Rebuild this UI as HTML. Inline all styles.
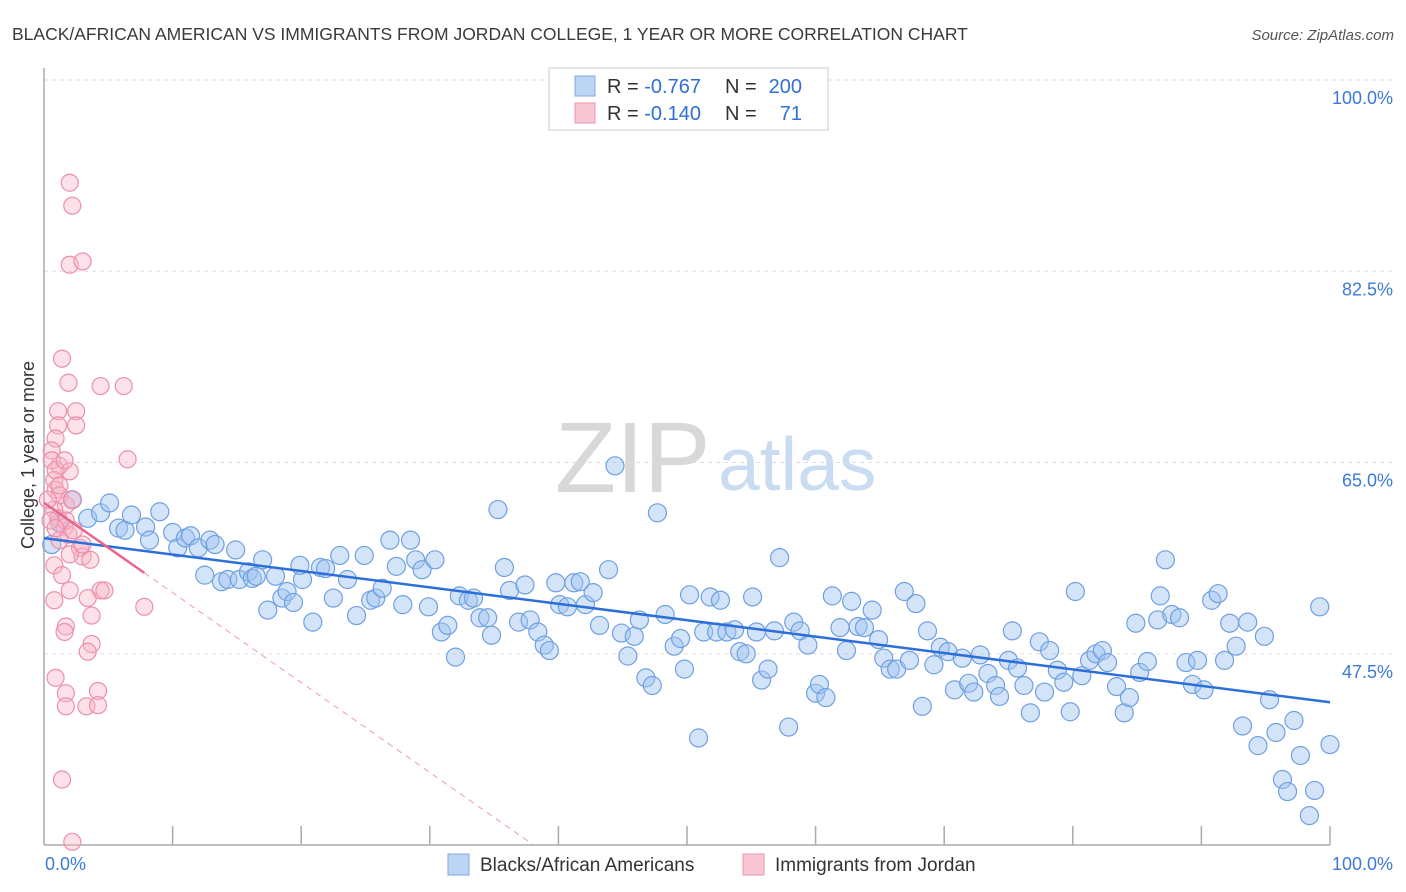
<!DOCTYPE html>
<html><head><meta charset="utf-8"><style>
body{margin:0;background:#fff;font-family:"Liberation Sans",sans-serif;}
#wrap{position:relative;width:1406px;height:892px;overflow:hidden;}
svg text{font-family:"Liberation Sans",sans-serif;}
</style></head><body>
<div id="wrap">
<svg id="chart" width="1406" height="892">
<text x="12" y="40" font-size="17.5" fill="#3a3a3a">BLACK/AFRICAN AMERICAN VS IMMIGRANTS FROM JORDAN COLLEGE, 1 YEAR OR MORE CORRELATION CHART</text>
<text x="1394" y="40" font-size="15" fill="#555" font-style="italic" text-anchor="end">Source: ZipAtlas.com</text>
<text x="555" y="492" font-size="100" fill="#d8d8d8" font-family="Liberation Serif, serif">ZIP</text>
<text x="718" y="490" font-size="75" fill="#c9dcf2">atlas</text>
<text transform="translate(34,455) rotate(-90)" font-size="18" fill="#333" text-anchor="middle">College, 1 year or more</text>
<g id="grid"></g><g id="pts"></g><g id="trend"></g>
<g>
<rect x="549" y="68" width="279" height="62" fill="#fff" stroke="#ccc"/>
<rect x="575" y="76" width="20" height="20" fill="#bcd5f5" stroke="#7fa9e0"/>
<rect x="575" y="103" width="20" height="20" fill="#f9c6d4" stroke="#eb94ae"/>
<text x="607" y="93" font-size="20" fill="#333">R = <tspan fill="#2f6fd6">-0.767</tspan></text>
<text x="725" y="93" font-size="20" fill="#333">N =</text>
<text x="802" y="93" font-size="20" fill="#2f6fd6" text-anchor="end">200</text>
<text x="607" y="120" font-size="20" fill="#333">R = <tspan fill="#2f6fd6">-0.140</tspan></text>
<text x="725" y="120" font-size="20" fill="#333">N =</text>
<text x="802" y="120" font-size="20" fill="#2f6fd6" text-anchor="end">71</text>
</g>
<g>
<rect x="448" y="854" width="21" height="21" fill="#bcd5f5" stroke="#7fa9e0"/>
<text x="480" y="871" font-size="19" fill="#333">Blacks/African Americans</text>
<rect x="743" y="854" width="21" height="21" fill="#f9c6d4" stroke="#eb94ae"/>
<text x="775" y="871" font-size="19" fill="#333">Immigrants from Jordan</text>
</g>
</svg>
</div>
<script>
const yTicks=[100,82.5,65,47.5];
const yTickLabels=["100.0%","82.5%","65.0%","47.5%"];
const xTickLabels=["0.0%","100.0%"];
const blueX=[0.6,1.2,2.2,3.4,4.4,5.1,5.8,6.3,6.8,7.9,8.2,9.0,10.0,10.4,11.0,11.4,12.0,12.5,12.9,13.3,13.8,14.3,14.9,15.2,15.9,16.2,16.5,17.0,17.4,18.0,18.5,18.9,19.4,20.1,20.9,19.9,21.5,21.9,22.5,23.0,23.6,24.3,24.9,25.4,25.8,26.3,26.9,27.4,27.9,28.5,28.9,29.4,29.9,30.4,30.9,31.4,32.0,32.3,33.0,33.4,33.9,34.5,34.8,35.3,35.8,36.2,36.9,37.4,37.8,38.4,38.9,39.3,39.8,40.1,40.7,41.2,41.7,42.1,42.7,43.2,43.9,44.4,44.9,45.4,45.9,46.3,46.8,47.3,47.7,48.3,49.0,49.5,49.8,50.2,50.9,51.3,51.8,52.3,52.6,53.1,53.7,54.1,54.6,55.1,55.4,55.8,56.3,56.8,57.2,57.9,58.3,58.8,59.4,60.0,60.3,60.8,61.3,61.9,62.4,62.8,63.3,63.8,64.4,64.9,65.3,65.8,66.3,66.9,67.3,67.8,68.3,68.7,69.2,69.7,70.3,70.8,71.4,71.9,72.3,72.8,73.4,74.0,74.3,75.0,75.3,75.7,76.2,76.7,77.4,77.8,78.2,78.8,79.3,79.8,80.2,80.7,81.3,81.8,82.3,82.7,83.4,84.0,84.4,84.9,85.2,85.8,86.6,86.8,87.2,87.7,88.3,88.8,89.3,89.7,90.2,90.8,91.3,91.8,92.2,92.7,93.2,93.6,94.4,94.9,95.3,95.8,96.3,96.7,97.2,97.7,98.4,98.8,99.2,100.0];
const blueY=[57.5,59.5,61.6,59.9,60.4,61.3,59.0,58.8,60.2,59.1,57.9,60.5,58.6,57.2,58.1,58.3,57.2,54.7,57.9,57.5,54.1,54.3,57.0,54.3,55.0,54.4,54.6,56.1,51.5,54.6,52.6,53.2,52.2,54.3,50.4,55.6,55.4,55.3,52.6,56.5,54.3,51.0,56.5,52.4,52.6,53.5,57.9,55.5,52.0,57.9,56.1,55.2,51.8,56.1,49.5,50.1,47.2,52.8,52.4,52.6,50.8,50.8,49.2,60.7,55.4,53.3,50.4,53.8,50.6,49.5,48.3,47.8,54.0,52.0,51.8,54.0,54.1,52.0,53.1,50.1,55.2,64.7,49.4,47.3,49.1,50.6,45.3,44.6,60.4,51.1,48.2,48.9,46.1,52.9,39.8,49.5,52.7,49.5,52.4,49.5,49.7,47.7,47.5,52.7,49.5,45.1,46.1,49.6,56.3,40.8,50.4,49.6,48.3,43.9,44.7,43.5,52.8,49.9,47.8,52.3,50.0,49.9,51.5,48.8,47.1,46.1,46.1,53.2,46.9,52.1,42.7,49.6,46.5,48.1,47.7,44.2,47.1,44.8,44.0,47.4,45.7,44.6,43.6,46.9,49.6,46.2,44.6,42.1,48.6,44.0,47.8,46.0,44.9,42.2,53.2,45.5,46.9,47.5,47.8,46.7,44.5,42.1,43.5,50.3,45.8,46.8,50.6,52.8,56.1,51.1,50.8,46.7,44.7,46.9,44.2,52.4,53.0,46.9,50.3,48.2,40.9,50.4,39.1,49.1,43.3,40.3,36.0,34.9,41.4,38.2,32.7,35.0,51.8,39.2];
const pinkX=[2.0,2.2,2.0,3.0,1.4,1.9,4.4,6.2,1.1,2.5,1.1,2.5,0.9,6.5,1.2,2.0,0.6,0.8,0.9,1.2,1.7,2.2,0.8,1.1,1.6,1.9,1.2,2.8,0.8,1.4,3.0,3.6,2.0,4.4,4.7,3.4,3.7,7.8,1.7,1.6,3.7,3.4,0.9,1.7,4.2,1.7,3.3,4.2,1.4,2.2,0.8,0.6,0.9,1.2,1.7,2.3,0.3,0.5,1.6,3.0,2.0,0.9];
const pinkY=[90.6,88.5,83.1,83.4,74.5,72.3,72.0,72.0,69.7,69.7,68.4,68.4,67.2,65.3,64.7,64.2,66.1,63.4,62.5,62.0,61.1,61.6,60.7,59.9,59.1,58.4,57.9,57.2,55.6,54.7,56.4,56.1,53.3,53.3,53.3,52.6,51.0,51.8,50.0,49.5,48.4,47.7,45.3,43.9,44.1,42.7,42.7,42.8,36.0,30.3,52.4,65.2,64.3,62.9,59.7,58.8,61.6,59.7,65.2,57.5,56.6,59.0];

const X0=44,X1=1330,Y100=80,PPY=10.93,BOTTOM=845;
const sx=v=>X0+(X1-X0)*v/100;
const sy=v=>Y100+(100-v)*PPY;
const NS="http://www.w3.org/2000/svg";
function mk(tag,attrs,parent){const e=document.createElementNS(NS,tag);for(const k in attrs)e.setAttribute(k,attrs[k]);parent.appendChild(e);return e;}
const grid=document.getElementById('grid');
yTicks.forEach((t,i)=>{
  const l=mk('line',{x1:X0,x2:1394,y1:sy(t),y2:sy(t),stroke:'#ddd','stroke-dasharray':'4,4'},grid);
  
  
  const tx=mk('text',{x:1393,y:sy(t)+24,'font-size':18,fill:'#3b7ad8','text-anchor':'end'},grid);
  tx.textContent=yTickLabels[i];
  
  
});
const ax=mk('line',{x1:X0,x2:X0,y1:68,y2:BOTTOM,stroke:'#aaa','stroke-width':1.5},grid);


const bx=mk('line',{x1:X0,x2:X1,y1:BOTTOM,y2:BOTTOM,stroke:'#aaa','stroke-width':1.5},grid);


for(let i=1;i<=10;i++){
  const t=mk('line',{x1:sx(i*10),x2:sx(i*10),y1:826,y2:BOTTOM,stroke:'#aaa','stroke-width':1.5},grid);
  
  
}
[[0,'start',45],[100,'end',1393]].forEach((d,i)=>{
  const t=mk('text',{x:d[2],y:870,'font-size':18,fill:'#3b7ad8','text-anchor':d[1]},grid);
  t.textContent=xTickLabels[i];
  
  
});
const pts=document.getElementById('pts');
blueX.forEach((x,i)=>{
  const c=mk('circle',{cx:sx(x),cy:sy(blueY[i]),r:9,fill:'rgba(160,196,240,0.45)',stroke:'#6fa0e0','stroke-width':1.2},pts);
  
  
});
pinkX.forEach((x,i)=>{
  const c=mk('circle',{cx:sx(x),cy:sy(pinkY[i]),r:8.5,fill:'rgba(248,180,200,0.4)',stroke:'#ec8fab','stroke-width':1.2},pts);
  
  
});
function reg(xs,ys){const n=xs.length;let mx=0,my=0;for(let i=0;i<n;i++){mx+=xs[i];my+=ys[i];}mx/=n;my/=n;let a=0,b=0;for(let i=0;i<n;i++){a+=(xs[i]-mx)*(ys[i]-my);b+=(xs[i]-mx)**2;}const s=a/b;return [s,my-s*mx];}
const tr=document.getElementById('trend');
const [bs,bi]=reg(blueX,blueY);
const bl=mk('line',{x1:sx(0),y1:sy(bi),x2:sx(100),y2:sy(bi+bs*100),stroke:'#2d6fd9','stroke-width':2.5},tr);


const [ps,pi]=reg(pinkX,pinkY);
const pmax=Math.max(...pinkX);
const pl=mk('line',{x1:sx(0),y1:sy(pi),x2:sx(pmax),y2:sy(pi+ps*pmax),stroke:'#e8668c','stroke-width':2.5},tr);


const yEnd=(BOTTOM-Y100)/-PPY+100;
let xEnd=ps<0?(yEnd-pi)/ps:100; xEnd=Math.min(100,xEnd);
const pd=mk('line',{x1:sx(pmax),y1:sy(pi+ps*pmax),x2:sx(xEnd),y2:sy(pi+ps*xEnd),stroke:'#eb9ab2','stroke-width':1,'stroke-dasharray':'6,5'},tr);


</script>
</body></html>
